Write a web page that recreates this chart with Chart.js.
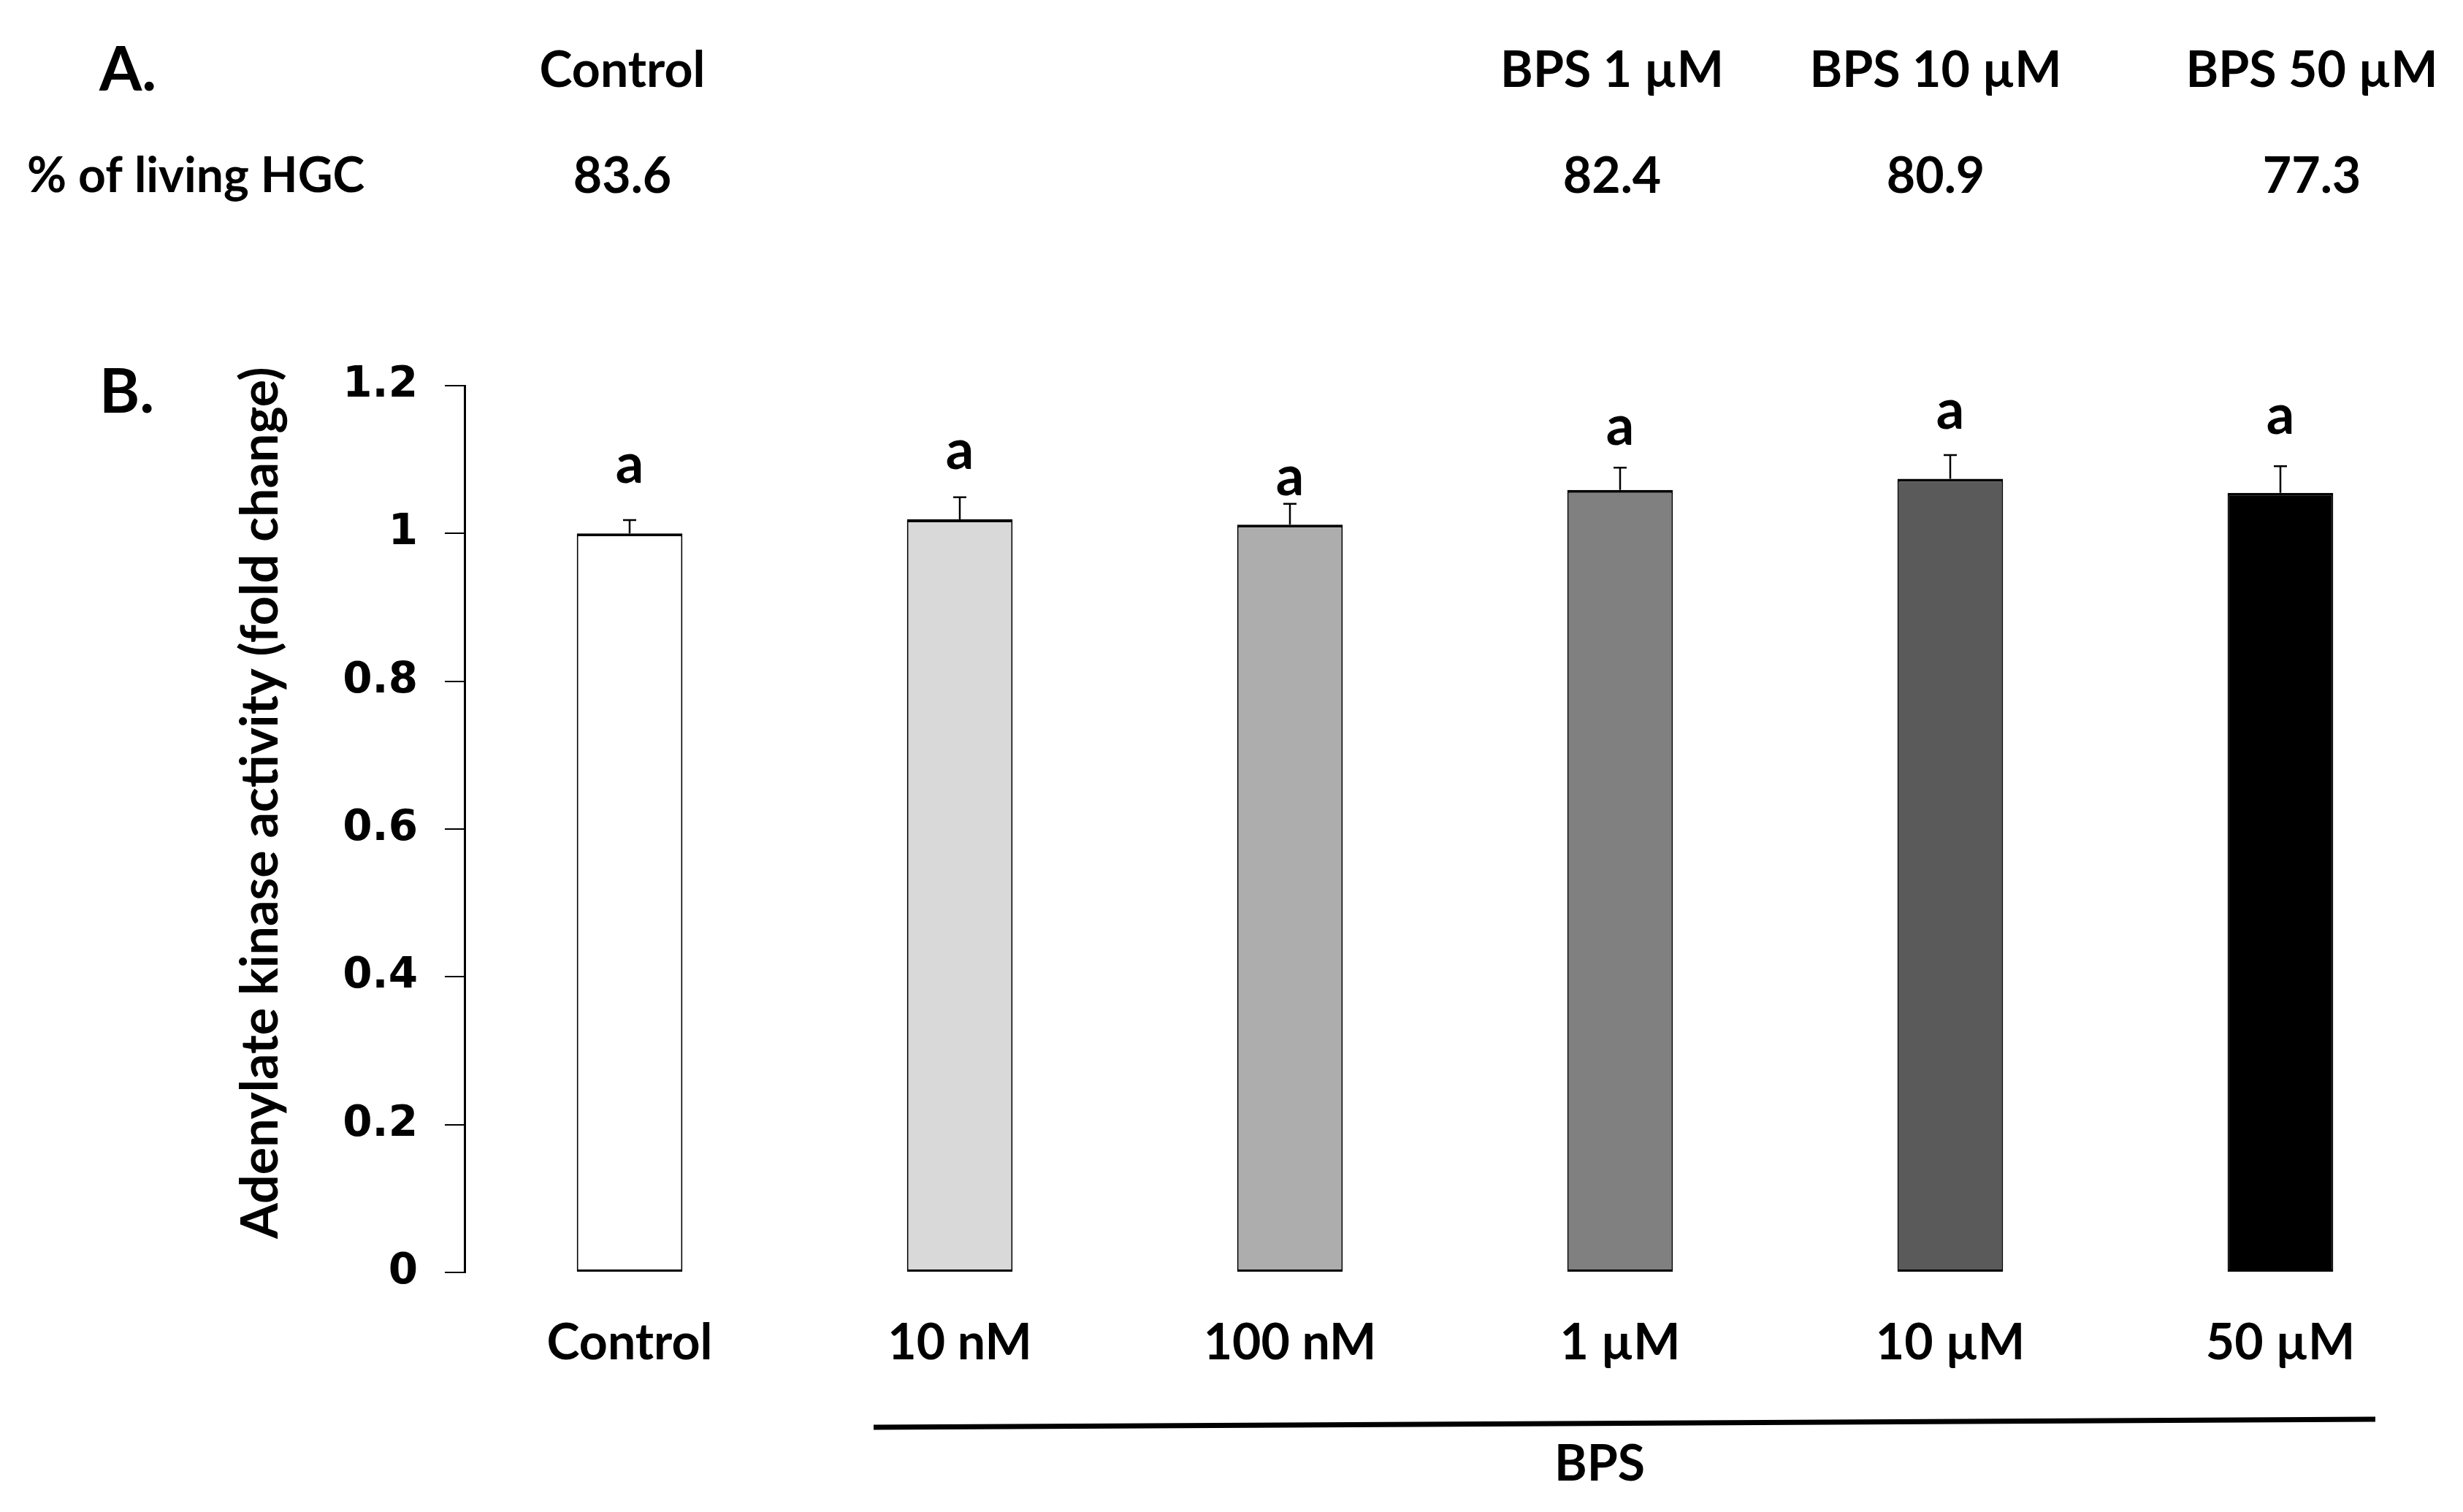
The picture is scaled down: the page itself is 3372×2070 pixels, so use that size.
<!DOCTYPE html>
<html>
<head>
<meta charset="utf-8">
<script src="https://cdn.jsdelivr.net/npm/chart.js@4.4.1/dist/chart.umd.min.js"></script>
<style>
  html, body { margin: 0; padding: 0; background: #fff; }
  #wrap { width: 3372px; height: 2070px; position: relative; }
</style>
</head>
<body>
<div id="wrap"><canvas id="chart"></canvas></div>
<script>
// Panel B data
const categories = ["Control", "10 nM", "100 nM", "1 µM", "10 µM", "50 µM"];
const means = [1.0, 1.019, 1.012, 1.059, 1.074, 1.055];
const errors = [0.018, 0.030, 0.028, 0.030, 0.032, 0.036];
const letters = ["a", "a", "a", "a", "a", "a"];
const letterPos = [1.093, 1.112, 1.076, 1.144, 1.166, 1.159];
const barColors = ["#ffffff", "#d9d9d9", "#adadad", "#808080", "#5a5a5a", "#000000"];
const yTicks = [0, 0.2, 0.4, 0.6, 0.8, 1, 1.2];

// Panel A data
const viabilityGroups = ["Control", "BPS 1 µM", "BPS 10 µM", "BPS 50 µM"];
const viabilityValues = ["83.6", "82.4", "80.9", "77.3"];

const tableX = [852, 2207, 2650, 3165];
const labelFont = "bold 68px Lato";

// error bars, letters, panel A table and the BPS bracket
const extras = {
  id: "extras",
  afterDatasetsDraw(chart) {
    const ctx = chart.ctx;
    const y = chart.scales.y;
    const bars = chart.getDatasetMeta(0).data;
    ctx.save();
    ctx.strokeStyle = "#000";
    ctx.fillStyle = "#000";
    ctx.lineWidth = 2.5;
    bars.forEach((bar, i) => {
      const top = y.getPixelForValue(means[i] + errors[i]);
      ctx.beginPath();
      ctx.moveTo(bar.x, bar.y);
      ctx.lineTo(bar.x, top);
      ctx.moveTo(bar.x - 9, top);
      ctx.lineTo(bar.x + 9, top);
      ctx.stroke();
      ctx.font = "bold 76px Lato";
      ctx.textAlign = "center";
      ctx.textBaseline = "middle";
      ctx.fillText(letters[i], bar.x, y.getPixelForValue(letterPos[i]));
    });

    // y axis title
    ctx.save();
    ctx.translate(357, 1099);
    ctx.rotate(-Math.PI / 2);
    ctx.font = "bold 70px Lato";
    ctx.textAlign = "center";
    ctx.textBaseline = "middle";
    ctx.fillText("Adenylate kinase activity (fold change)", 0, 0);
    ctx.restore();

    // BPS bracket line
    ctx.lineWidth = 7;
    ctx.beginPath();
    ctx.moveTo(1196, 1954);
    ctx.lineTo(3252, 1943);
    ctx.stroke();
    ctx.font = labelFont;
    ctx.textAlign = "center";
    ctx.fillText("BPS", 2190, 2005);

    // panel letters
    ctx.font = "bold 84px Lato";
    ctx.textAlign = "left";
    ctx.fillText("A.", 136, 97);
    ctx.fillText("B.", 136, 538);

    // panel A table
    ctx.font = "bold 66px Lato";
    ctx.fillText("% of living HGC", 37, 242);
    ctx.font = labelFont;
    ctx.textAlign = "center";
    viabilityGroups.forEach((g, i) => {
      ctx.fillText(g, tableX[i], 97);
      ctx.fillText(viabilityValues[i], tableX[i], 242);
    });
    ctx.restore();
  }
};

new Chart(document.getElementById("chart"), {
  type: "bar",
  data: {
    labels: categories,
    datasets: [{
      data: means,
      backgroundColor: barColors,
      borderColor: "#000",
      borderWidth: { top: 4, left: 2, right: 2, bottom: 3 },
      borderSkipped: false,
      barPercentage: 0.32,
      categoryPercentage: 1
    }]
  },
  options: {
    responsive: true,
    maintainAspectRatio: false,
    animation: false,
    devicePixelRatio: 1,
    layout: { padding: { top: 528, right: 24, left: 0, bottom: 0 } },
    plugins: {
      legend: { display: false },
      tooltip: { enabled: false }
    },
    scales: {
      x: {
        grid: { display: false },
        border: { display: false },
        ticks: { color: "#000", font: { family: "Lato", weight: "bold", size: 68 }, padding: 48 },
        afterFit: s => { s.height = 328; }
      },
      y: {
        min: 0,
        max: 1.2,
        afterBuildTicks: s => { s.ticks = yTicks.map(v => ({ value: v })); },
        grid: { drawOnChartArea: false, drawTicks: true, tickLength: 27, color: "#000", lineWidth: 2 },
        border: { display: true, color: "#000", width: 3 },
        ticks: {
          color: "#000",
          font: { family: "DejaVu Sans", weight: "bold", size: 58 },
          padding: 37,
          callback: v => String(v)
        },
        afterFit: s => { s.width = 636; }
      }
    }
  },
  plugins: [extras]
});
</script>
</body>
</html>
